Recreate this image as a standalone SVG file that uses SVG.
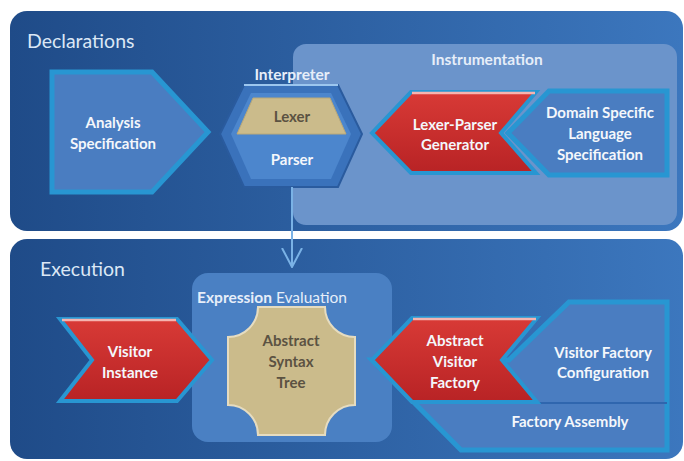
<svg xmlns="http://www.w3.org/2000/svg" width="684" height="461" viewBox="0 0 684 461">
<defs>
<linearGradient id="panel" x1="0" y1="0" x2="1" y2="0">
<stop offset="0" stop-color="#1f4b88"/>
<stop offset="1" stop-color="#3c77be"/>
</linearGradient>
<linearGradient id="red" x1="0" y1="0" x2="0" y2="1">
<stop offset="0" stop-color="#d83a36"/>
<stop offset="1" stop-color="#b82325"/>
</linearGradient>
<marker id="vee" viewBox="0 0 20 22" refX="19" refY="11" markerWidth="20" markerHeight="22" markerUnits="userSpaceOnUse" orient="auto">
<path d="M0,1 L19,11 L0,21" fill="none" stroke="#7ab2e6" stroke-width="2"/>
</marker>
</defs>
<style>
.title{font-family:Lato,"Liberation Sans",sans-serif;font-size:19.5px;fill:#dbe7f5}
.lbl{font-family:Lato,"Liberation Sans",sans-serif;font-size:15px;font-weight:bold;fill:#f4f7fb;text-anchor:middle}
.sub{font-family:Lato,"Liberation Sans",sans-serif;font-size:15.5px;font-weight:bold;fill:#e6eef9;text-anchor:middle}
.tan{font-family:Lato,"Liberation Sans",sans-serif;font-size:15px;font-weight:bold;fill:#5b5242;text-anchor:middle}
.glow{fill:#4a7dc1;stroke:#2896d2;stroke-width:5;stroke-linejoin:miter;stroke-miterlimit:3}
.redshape{fill:url(#red);stroke:#2896d2;stroke-width:4;stroke-linejoin:miter;stroke-miterlimit:3}
.hl{stroke:#f5b4b0;stroke-width:2.5}
</style>
<rect width="684" height="461" fill="#ffffff"/>

<g id="declarations">
<rect x="10" y="11" width="673" height="220" rx="17" fill="url(#panel)"/>
<text class="title" x="27" y="48">Declarations</text>
</g>

<g id="instrumentation">
<rect x="293" y="44" width="384" height="181" rx="13" fill="#6b94cb"/>
<text class="sub" x="487" y="65">Instrumentation</text>
</g>

<g id="execution">
<rect x="10" y="239" width="673" height="220" rx="17" fill="url(#panel)"/>
<text class="title" x="40" y="276">Execution</text>
</g>

<g id="expression-evaluation">
<rect x="192" y="273" width="200" height="169" rx="16" fill="#4a80c3"/>
<text x="272" y="303" font-family="Lato,'Liberation Sans',sans-serif" font-size="15.5px" fill="#e6eef9" text-anchor="middle"><tspan font-weight="bold">Expression</tspan> Evaluation</text>
</g>

<g id="analysis-specification">
<polygon class="glow" points="52,72 152,72 208,132 152,192 52,192"/>
<text class="lbl" x="113" y="128">Analysis</text>
<text class="lbl" x="113" y="149">Specification</text>
</g>

<g id="interpreter">
<text class="sub" x="292" y="80">Interpreter</text>
<polygon points="220,134 244,85 338,85 362,134 338,187 244,187" fill="#3a72bb" stroke="#2a5b9e" stroke-width="2"/>
<line x1="244" y1="85" x2="338" y2="85" stroke="#9cc6ee" stroke-width="2"/>
<polygon points="231,134 251,93 331,93 351,134 331,179 251,179" fill="#4c86cd"/>
<polygon points="253,98 330,98 346,134 237,134" fill="#cbbb8b" stroke="#b9a878" stroke-width="1"/>
<text class="tan" x="292" y="122" font-weight="normal" font-size="16px">Lexer</text>
<text class="lbl" x="292" y="165">Parser</text>
</g>

<g id="lexer-parser-generator">
<polygon class="glow" points="549,91 667,91 667,175 549,175 508,133"/>
<polygon class="redshape" points="411,92 536,92 501,133 536,173 411,173 372,133"/>
<line class="hl" x1="412" y1="93" x2="535" y2="93"/>
<text class="lbl" x="455" y="130">Lexer-Parser</text>
<text class="lbl" x="455" y="150">Generator</text>
</g>

<g id="domain-specific-language-specification">
<text class="lbl" x="600" y="118">Domain Specific</text>
<text class="lbl" x="600" y="139">Language</text>
<text class="lbl" x="600" y="160">Specification</text>
</g>

<g id="abstract-syntax-tree">
<path d="M258,307 L325,307 A30,30 0 0 0 355,337 L355,405 A30,30 0 0 0 325,435 L258,435 A30,30 0 0 0 228,405 L228,337 A30,30 0 0 0 258,307 Z" fill="#cbbb8b" stroke="#e6dcc0" stroke-width="2"/>
<text class="tan" x="291" y="346">Abstract</text>
<text class="tan" x="291" y="367">Syntax</text>
<text class="tan" x="291" y="388">Tree</text>
</g>

<g id="visitor-instance">
<polygon class="redshape" points="60,319 177,319 212,360 177,401 60,401 92,360"/>
<line class="hl" x1="62" y1="320" x2="176" y2="320"/>
<text class="lbl" x="130" y="357">Visitor</text>
<text class="lbl" x="130" y="378">Instance</text>
</g>

<g id="factory-assembly">
<polygon class="glow" points="569,302 667,302 667,450 461,450 372,360 509,360"/>
<line x1="537" y1="403" x2="667" y2="403" stroke="#2f66ae" stroke-width="2"/>
<text class="lbl" x="570" y="427">Factory Assembly</text>
</g>

<g id="visitor-factory-configuration">
<text class="lbl" x="603" y="358">Visitor Factory</text>
<text class="lbl" x="603" y="378">Configuration</text>
</g>

<g id="abstract-visitor-factory">
<polygon class="redshape" points="412,318 537,318 502,360 537,402 412,402 372,360"/>
<line class="hl" x1="413" y1="319" x2="536" y2="319"/>
<text class="lbl" x="455" y="346">Abstract</text>
<text class="lbl" x="455" y="367">Visitor</text>
<text class="lbl" x="455" y="388">Factory</text>
</g>

<g id="connectors">
<line x1="292" y1="187" x2="292" y2="267" stroke="#7ab2e6" stroke-width="2" marker-end="url(#vee)"/>
</g>
</svg>
